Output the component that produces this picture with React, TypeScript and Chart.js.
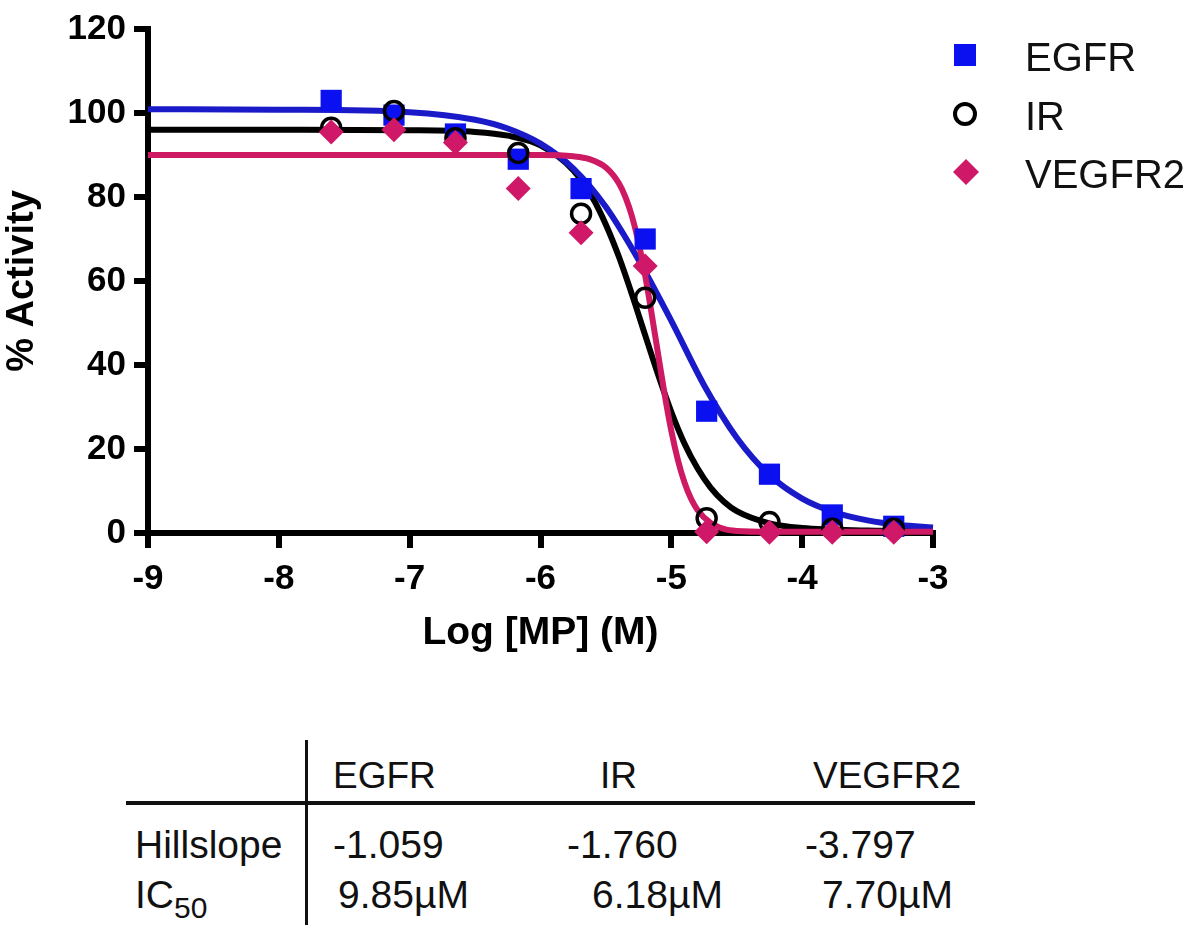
import React, { useEffect, useRef } from "react";
import { Chart, registerables } from "chart.js";

Chart.register(...registerables);

// ---------- data ----------
const seriesNames = ["EGFR", "IR", "VEGFR2"];
const logConc = [-7.6, -7.12, -6.65, -6.17, -5.69, -5.2, -4.73, -4.25, -3.77, -3.3];
const egfrActivity = [103, 99.5, 95, 89, 82, 70, 29, 14, 4.3, 1.6];
const irActivity = [96.5, 100.5, 94, 90.5, 76, 56, 3.5, 2.6, 1, 1];
const vegfr2Activity = [95.5, 96, 93, 82, 71.5, 63.6, 0.3, 0.2, 0.2, 0.2];

const egfrFitX = [-9, -8, -7, -6.5, -6.25, -6, -5.75, -5.5, -5.25, -5, -4.75, -4.5, -4.25, -4, -3.75, -3.5, -3.25, -3];
const egfrFitY = [100.9, 100.8, 100.2, 98.4, 96.3, 92.7, 86.8, 77.6, 65, 50.5, 35.2, 22.7, 13.8, 8.2, 4.9, 3, 1.9, 1.3];
const irFitX = [-9, -8, -7, -6.5, -6.25, -6, -5.75, -5.6, -5.5, -5.4, -5.3, -5.2, -5.1, -5, -4.9, -4.8, -4.7, -4.6, -4.5, -4.25, -4, -3.5, -3];
const irFitY = [96, 96, 95.9, 95.5, 94.6, 92.3, 86.4, 79.7, 73.4, 65.7, 56.7, 47.1, 37.6, 28.8, 21.3, 15.4, 10.8, 7.5, 5.2, 2.3, 1.2, 0.6, 0.4];
const vegfr2FitX = [-9, -8, -7, -6, -5.75, -5.625, -5.5, -5.4, -5.35, -5.3, -5.25, -5.2, -5.15, -5.1, -5.05, -5, -4.95, -4.9, -4.85, -4.8, -4.7, -4.6, -4.5, -4.25, -4, -3.5, -3];
const vegfr2FitY = [90, 90, 90, 90, 89.7, 89, 87, 83.2, 79.9, 75.3, 69.1, 61.3, 52.1, 42.4, 32.8, 24.3, 17.4, 12.1, 8.2, 5.5, 2.4, 1.0, 0.5, 0.3, 0.3, 0.3, 0.3];

const xTicks = [-9, -8, -7, -6, -5, -4, -3];
const yTicks = [0, 20, 40, 60, 80, 100, 120];
const xTitle = "Log [MP] (M)";
const yTitle = "% Activity";

const tableColumns = ["EGFR", "IR", "VEGFR2"];
const hillslopes = ["-1.059", "-1.760", "-3.797"];
const ic50Values = ["9.85\u00b5M", "6.18\u00b5M", "7.70\u00b5M"];

// ---------- styles ----------
const FONT = "'Liberation Sans', Arial, Helvetica, sans-serif";
const BLUE_LINE = "#1a1ac8";
const BLUE_MARK = "#0a10f0";
const PINK_LINE = "#cd1a63";
const PINK_MARK = "#d01868";

const pts = (xs: number[], ys: number[]) => xs.map((x, i) => ({ x, y: ys[i] }));

function LegendSymbol({ kind }: { kind: string }) {
  if (kind === "rect")
    return (
      <svg width="30" height="30" style={{ position: "absolute", left: 950, top: -15 }}>
        <rect x="4" y="4" width="22" height="22" fill={BLUE_MARK} />
      </svg>
    );
  if (kind === "circle")
    return (
      <svg width="30" height="30" style={{ position: "absolute", left: 950, top: -15 }}>
        <circle cx="15" cy="15" r="10" fill="#fff" stroke="#000" strokeWidth="4" />
      </svg>
    );
  return (
    <svg width="30" height="30" style={{ position: "absolute", left: 951, top: -15 }}>
      <polygon points="15,2 28,15 15,28 2,15" fill={PINK_MARK} />
    </svg>
  );
}

export default function App() {
  const canvasRef = useRef<HTMLCanvasElement | null>(null);

  useEffect(() => {
    const canvas = canvasRef.current;
    if (!canvas) return;
    Chart.defaults.font.family = FONT;
    const lineDs = (label: string, xs: number[], ys: number[], color: string) => ({
      label,
      data: pts(xs, ys),
      showLine: true,
      pointRadius: 0,
      borderColor: color,
      backgroundColor: color,
      borderWidth: 6,
      cubicInterpolationMode: "monotone",
      fill: false,
      clip: false,
    });
    const chart = new Chart(canvas, {
      type: "scatter",
      data: {
        datasets: [
          {
            label: seriesNames[2],
            data: pts(logConc, vegfr2Activity),
            pointStyle: "rectRot",
            pointRadius: 12.5,
            backgroundColor: PINK_MARK,
            borderColor: PINK_MARK,
            borderWidth: 0,
            clip: false,
          },
          {
            label: seriesNames[1],
            data: pts(logConc, irActivity),
            pointStyle: "circle",
            pointRadius: 9.5,
            backgroundColor: "rgba(0,0,0,0)",
            borderColor: "#000",
            borderWidth: 3.5,
            clip: false,
          },
          {
            label: seriesNames[0],
            data: pts(logConc, egfrActivity),
            pointStyle: "rect",
            pointRadius: 15,
            backgroundColor: BLUE_MARK,
            borderColor: BLUE_MARK,
            borderWidth: 0,
            clip: false,
          },
          lineDs(seriesNames[2] + " fit", vegfr2FitX, vegfr2FitY, PINK_LINE),
          lineDs(seriesNames[0] + " fit", egfrFitX, egfrFitY, BLUE_LINE),
          lineDs(seriesNames[1] + " fit", irFitX, irFitY, "#000"),
        ] as any,
      },
      options: {
        animation: false,
        responsive: false,
        events: [],
        layout: { padding: { top: 22, right: 267, left: 0, bottom: 0 } },
        plugins: { legend: { display: false }, tooltip: { enabled: false } },
        scales: {
          x: {
            type: "linear",
            min: -9,
            max: -3,
            afterBuildTicks: (s: any) => {
              s.ticks = xTicks.map((v) => ({ value: v }));
            },
            afterFit: (s: any) => {
              s.height = 147;
            },
            grid: { drawOnChartArea: false, drawTicks: true, lineWidth: 6, tickLength: 15, tickWidth: 6, tickColor: "#000", color: "#000" },
            border: { display: true, width: 6, color: "#000" },
            ticks: { color: "#000", font: { size: 35, weight: "bold" }, padding: 10, maxRotation: 0, autoSkip: false },
            title: {
              display: true,
              text: xTitle,
              color: "#000",
              font: { size: 39, weight: "bold" },
              padding: { top: 0, bottom: 23 },
            },
          },
          y: {
            type: "linear",
            min: 0,
            max: 120,
            afterBuildTicks: (s: any) => {
              s.ticks = yTicks.map((v) => ({ value: v }));
            },
            afterFit: (s: any) => {
              s.width = 148;
            },
            grid: { drawOnChartArea: false, drawTicks: true, lineWidth: 6, tickLength: 14, tickWidth: 6, tickColor: "#000", color: "#000" },
            border: { display: true, width: 6, color: "#000" },
            ticks: { color: "#000", font: { size: 35, weight: "bold" }, padding: 8, autoSkip: false },
            title: {
              display: true,
              text: yTitle,
              color: "#000",
              font: { size: 38, weight: "bold" },
              padding: { top: 0, bottom: 0 },
            },
          },
        },
      } as any,
    });
    return () => chart.destroy();
  }, []);

  const legendKinds = ["rect", "circle", "diamond"];
  const legendTops = [55, 114, 172];
  const headerLeft = [333, 600, 813];
  const hillLeft = [333, 567, 805];
  const icLeft = [338, 592, 822];

  const textBase: React.CSSProperties = {
    position: "absolute",
    fontFamily: FONT,
    lineHeight: 1,
    whiteSpace: "nowrap",
    color: "#111",
  };

  return (
    <div style={{ position: "absolute", left: 0, top: 0, width: 1200, height: 940, background: "#fff" }}>
      <canvas ref={canvasRef} width={1200} height={680} style={{ position: "absolute", left: 0, top: 0, display: "block" }} />
      {/* legend */}
      {seriesNames.map((name, i) => (
        <div key={name} style={{ position: "absolute", left: 0, top: legendTops[i], width: 1200, height: 0 }}>
          <LegendSymbol kind={legendKinds[i]} />
          <div style={{ ...textBase, left: 1025, top: -18, fontSize: 40 }}>{name}</div>
        </div>
      ))}
      {/* table */}
      <div style={{ position: "absolute", left: 305, top: 740, width: 3, height: 185, background: "#111" }} />
      <div style={{ position: "absolute", left: 126, top: 801, width: 849, height: 4, background: "#111" }} />
      {tableColumns.map((c, i) => (
        <div key={c} style={{ ...textBase, left: headerLeft[i], top: 757, fontSize: 37 }}>
          {c}
        </div>
      ))}
      <div style={{ ...textBase, left: 135, top: 825, fontSize: 39 }}>Hillslope</div>
      {hillslopes.map((h, i) => (
        <div key={"h" + i} style={{ ...textBase, left: hillLeft[i], top: 825, fontSize: 39 }}>
          {h}
        </div>
      ))}
      <div style={{ ...textBase, left: 135, top: 875, fontSize: 39 }}>
        IC<span style={{ fontSize: 30, position: "relative", top: 10 }}>50</span>
      </div>
      {ic50Values.map((v, i) => (
        <div key={"ic" + i} style={{ ...textBase, left: icLeft[i], top: 875, fontSize: 39 }}>
          {v}
        </div>
      ))}
    </div>
  );
}
